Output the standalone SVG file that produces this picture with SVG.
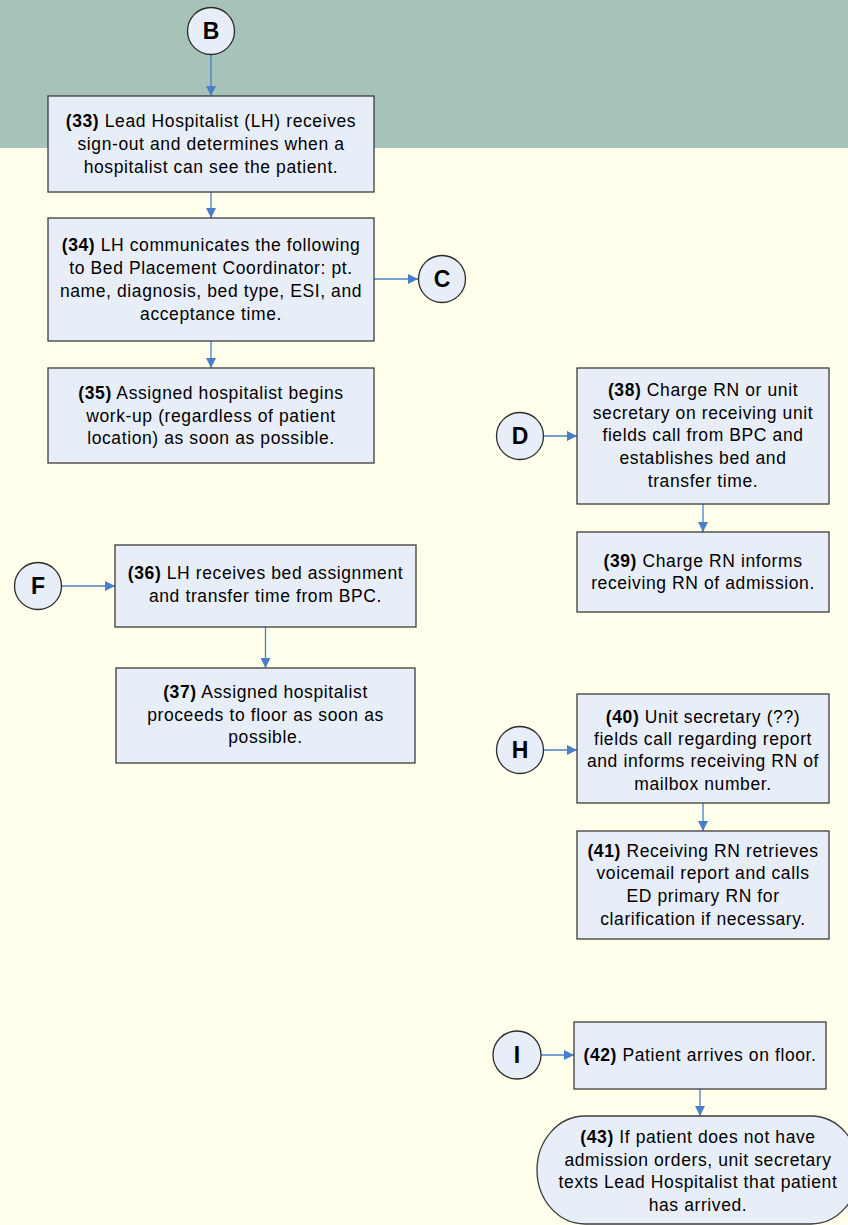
<svg xmlns="http://www.w3.org/2000/svg" width="848" height="1225" viewBox="0 0 848 1225">
<defs>
<style>
.bg{fill:#FFFFEB}
.band{fill:#A6C2B9}
.box{fill:#E8EEF8;stroke:#3C3C3C;stroke-width:1.3}
.circ{fill:#E8EEF8;stroke:#2A2A2A;stroke-width:1.3}
.t{font-family:"Liberation Sans",Arial,sans-serif;font-size:17.5px;letter-spacing:0.6px;fill:#000;text-anchor:middle}
.b{font-weight:bold}
.lbl{font-family:"Liberation Sans",Arial,sans-serif;font-size:23px;font-weight:bold;fill:#000;text-anchor:middle}
.conn{stroke:#4A7EC8;stroke-width:1.3;fill:none;marker-end:url(#ah)}
</style>
<marker id="ah" markerUnits="userSpaceOnUse" markerWidth="10" markerHeight="10" refX="10" refY="5" orient="auto" viewBox="0 0 10 10">
<path d="M0,0 L10,5 L0,10 z" fill="#4A7EC8"/>
</marker>
</defs>
<rect class="bg" x="0" y="0" width="848" height="1225"/>
<rect class="band" x="0" y="0" width="848" height="148"/>

<g id="connectors">
<line class="conn" x1="211" y1="54" x2="211" y2="96"/>
<line class="conn" x1="211" y1="192" x2="211" y2="218"/>
<line class="conn" x1="374" y1="279" x2="418" y2="279"/>
<line class="conn" x1="211" y1="341" x2="211" y2="368"/>
<line class="conn" x1="62" y1="586" x2="115" y2="586"/>
<line class="conn" x1="265.5" y1="627" x2="265.5" y2="668"/>
<line class="conn" x1="543" y1="436" x2="577" y2="436"/>
<line class="conn" x1="703" y1="504" x2="703" y2="532"/>
<line class="conn" x1="543" y1="750" x2="577" y2="750"/>
<line class="conn" x1="703" y1="803" x2="703" y2="831"/>
<line class="conn" x1="541" y1="1055" x2="574" y2="1055"/>
<line class="conn" x1="700" y1="1089" x2="700" y2="1116"/>
</g>

<g id="B">
<circle class="circ" cx="211" cy="31" r="23.5"/>
<text class="lbl" x="211" y="39">B</text>
</g>
<g id="C">
<circle class="circ" cx="442" cy="279" r="23.5"/>
<text class="lbl" x="442" y="287">C</text>
</g>
<g id="D">
<circle class="circ" cx="520" cy="436" r="23.5"/>
<text class="lbl" x="520" y="444">D</text>
</g>
<g id="F">
<circle class="circ" cx="38" cy="586" r="23.5"/>
<text class="lbl" x="38" y="594">F</text>
</g>
<g id="H">
<circle class="circ" cx="520" cy="750" r="23.5"/>
<text class="lbl" x="520" y="758">H</text>
</g>
<g id="I">
<circle class="circ" cx="517" cy="1055" r="24"/>
<text class="lbl" x="517" y="1063">I</text>
</g>

<g id="n33">
<rect class="box" x="48" y="96" width="326" height="96"/>
<text class="t" x="211" y="127"><tspan class="b">(33)</tspan> Lead Hospitalist (LH) receives</text>
<text class="t" x="211" y="150">sign-out and determines when a</text>
<text class="t" x="211" y="173">hospitalist can see the patient.</text>
</g>
<g id="n34">
<rect class="box" x="48" y="218" width="326" height="123"/>
<text class="t" x="211" y="250.5"><tspan class="b">(34)</tspan> LH communicates the following</text>
<text class="t" x="211" y="273.5">to Bed Placement Coordinator: pt.</text>
<text class="t" x="211" y="296.5">name, diagnosis, bed type, ESI, and</text>
<text class="t" x="211" y="319.5">acceptance time.</text>
</g>
<g id="n35">
<rect class="box" x="48" y="368" width="326" height="95"/>
<text class="t" x="211" y="399"><tspan class="b">(35)</tspan> Assigned hospitalist begins</text>
<text class="t" x="211" y="421.5">work-up (regardless of patient</text>
<text class="t" x="211" y="444">location) as soon as possible.</text>
</g>
<g id="n36">
<rect class="box" x="115" y="545" width="301" height="82"/>
<text class="t" x="265.5" y="579"><tspan class="b">(36)</tspan> LH receives bed assignment</text>
<text class="t" x="265.5" y="602">and transfer time from BPC.</text>
</g>
<g id="n37">
<rect class="box" x="116" y="668" width="299" height="95"/>
<text class="t" x="265.5" y="698"><tspan class="b">(37)</tspan> Assigned hospitalist</text>
<text class="t" x="265.5" y="720.5">proceeds to floor as soon as</text>
<text class="t" x="265.5" y="743">possible.</text>
</g>
<g id="n38">
<rect class="box" x="577" y="368" width="252" height="136"/>
<text class="t" x="703" y="396"><tspan class="b">(38)</tspan> Charge RN or unit</text>
<text class="t" x="703" y="418.7">secretary on receiving unit</text>
<text class="t" x="703" y="441.3">fields call from BPC and</text>
<text class="t" x="703" y="464">establishes bed and</text>
<text class="t" x="703" y="486.7">transfer time.</text>
</g>
<g id="n39">
<rect class="box" x="577" y="532" width="252" height="80"/>
<text class="t" x="703" y="566.7"><tspan class="b">(39)</tspan> Charge RN informs</text>
<text class="t" x="703" y="589.3">receiving RN of admission.</text>
</g>
<g id="n40">
<rect class="box" x="577" y="694" width="252" height="109"/>
<text class="t" x="703" y="722.7"><tspan class="b">(40)</tspan> Unit secretary (??)</text>
<text class="t" x="703" y="745">fields call regarding report</text>
<text class="t" x="703" y="767.3">and informs receiving RN of</text>
<text class="t" x="703" y="790">mailbox number.</text>
</g>
<g id="n41">
<rect class="box" x="577" y="831" width="252" height="108"/>
<text class="t" x="703" y="856.7"><tspan class="b">(41)</tspan> Receiving RN retrieves</text>
<text class="t" x="703" y="879.3">voicemail report and calls</text>
<text class="t" x="703" y="902.3">ED primary RN for</text>
<text class="t" x="703" y="925">clarification if necessary.</text>
</g>
<g id="n42">
<rect class="box" x="574" y="1022" width="252" height="67"/>
<text class="t" x="700" y="1061"><tspan class="b">(42)</tspan> Patient arrives on floor.</text>
</g>
<g id="n43">
<rect class="box" x="537" y="1116" width="322" height="108" rx="48" ry="54"/>
<text class="t" x="698" y="1143.3"><tspan class="b">(43)</tspan> If patient does not have</text>
<text class="t" x="698" y="1165.7">admission orders, unit secretary</text>
<text class="t" x="698" y="1188.3">texts Lead Hospitalist that patient</text>
<text class="t" x="698" y="1210.7">has arrived.</text>
</g>
</svg>
